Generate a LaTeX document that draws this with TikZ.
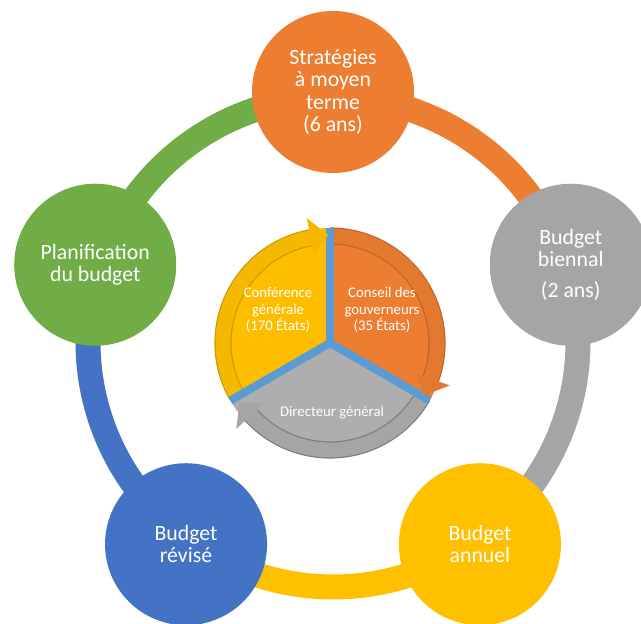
\documentclass[tikz,border=0pt]{standalone}
\usepackage{fontspec}
\setmainfont{Carlito}

\definecolor{cOrange}{HTML}{ED7D31}
\definecolor{cGray}{HTML}{A5A5A5}
\definecolor{cYellow}{HTML}{FFC000}
\definecolor{cBlue}{HTML}{4472C4}
\definecolor{cGreen}{HTML}{70AD47}
\definecolor{cSep}{HTML}{5B9BD5}

\begin{document}
\begin{tikzpicture}[
    x=0.025cm, y=0.025cm,
    stage/.style={circle, minimum size=4.05cm, inner sep=0pt, text=white, align=center, font=\fontsize{15.5}{16}\selectfont},
    ring/.style={line width=0.625cm},
    bandedge/.style={line width=0.43cm},
    band/.style={line width=0.37cm},
    separator/.style={cSep, line width=0.2cm},
    pietext/.style={text=white, align=center, font=\fontsize{10.5}{12}\selectfont}
]
\useasboundingbox (0,0) rectangle (641,624);
\coordinate (ring) at (333,282);
\coordinate (pie) at (330,281);

% Outer ring
\draw[ring, cOrange] (ring) ++(90:245) arc[start angle=90, end angle=18, radius=245];
\draw[ring, cGray] (ring) ++(18:245) arc[start angle=18, end angle=-54, radius=245];
\draw[ring, cYellow] (ring) ++(-54:245) arc[start angle=-54, end angle=-126, radius=245];
\draw[ring, cBlue] (ring) ++(-126:245) arc[start angle=-126, end angle=-198, radius=245];
\draw[ring, cGreen] (ring) ++(162:245) arc[start angle=162, end angle=90, radius=245];

% Stages
\node[stage, fill=cOrange] (strategie) at ([shift={(90:250)}]ring) {Stratégies\\à moyen\\terme\\(6 ans)};
\node[stage, fill=cGray] (biennal) at ([shift={(18:250)}]ring) {Budget\\biennal\\[6pt](2 ans)};
\node[stage, fill=cYellow] (annuel) at ([shift={(-54:250)}]ring) {Budget\\annuel};
\node[stage, fill=cBlue] (revise) at ([shift={(-126:250)}]ring) {Budget\\révisé};
\node[stage, fill=cGreen] (planif) at ([shift={(162:250)}]ring) {Planification\\du budget};

% Centre cycle
\fill[cYellow!95!orange] (pie) -- ++(90:115) arc[start angle=90, end angle=210, radius=115] -- cycle;
\fill[cOrange] (pie) -- ++(90:115) arc[start angle=90, end angle=-30, radius=115] -- cycle;
\fill[cGray!90!white] (pie) -- ++(210:115) arc[start angle=210, end angle=330, radius=115] -- cycle;

\draw[bandedge, cYellow!80!black] (pie) ++(210:107) arc[start angle=210, end angle=100, radius=107];
\draw[band, cYellow!96!black] (pie) ++(210:107) arc[start angle=210, end angle=100, radius=107];
\draw[bandedge, cOrange!80!black] (pie) ++(90:107) arc[start angle=90, end angle=-20, radius=107];
\draw[band, cOrange!96!black] (pie) ++(90:107) arc[start angle=90, end angle=-20, radius=107];
\draw[bandedge, cGray!75!black] (pie) ++(330:107) arc[start angle=330, end angle=222, radius=107];
\draw[band, cGray] (pie) ++(330:107) arc[start angle=330, end angle=222, radius=107];

\draw[separator] (pie) -- ++(90:115);
\draw[separator] (pie) -- ++(210:115);
\draw[separator] (pie) -- ++(-30:115);

% Arrow heads
\fill[cYellow!96!black] ([shift={(100.5:90)}]pie) -- ([shift={(100.5:127)}]pie) -- ([shift={(91:108)}]pie) -- cycle;
\fill[cOrange!96!black] ([shift={(-19.5:90)}]pie) -- ([shift={(-19.5:127)}]pie) -- ([shift={(-29:108)}]pie) -- cycle;
\fill[cGray] ([shift={(222.5:90)}]pie) -- ([shift={(222.5:127)}]pie) -- ([shift={(213:108)}]pie) -- cycle;

\node[pietext] (conference) at (278,314) {Conférence\\générale\\(170 États)};
\node[pietext] (conseil) at (382,314) {Conseil des\\gouverneurs\\(35 États)};
\node[pietext] (directeur) at (332,211) {Directeur général};

\end{tikzpicture}
\end{document}
